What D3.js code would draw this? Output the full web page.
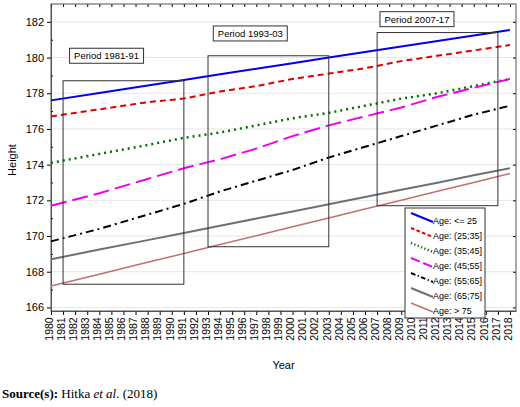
<!DOCTYPE html><html><head><script src="https://cdn.jsdelivr.net/npm/d3@7"></script>
<style>body{margin:0;background:#fff}text{font-family:Arial,"Liberation Sans",sans-serif}</style></head><body>
<svg id="c" width="520" height="407"></svg>
<script>
const years=d3.range(1980,2019);
const ageLabels=["Age: <= 25","Age: (25;35]","Age: (35;45]","Age: (45;55]","Age: (55;65]","Age: (65;75]","Age: > 75"];
const ptYears=[1980,1984,1988,1991,1994,1997,2000,2003,2006,2009,2012,2015,2018];
const sBlue=[177.6,178.02,178.43,178.74,179.06,179.37,179.68,180.0,180.31,180.62,180.93,181.24,181.55];
const sRed=[176.7,177.1,177.5,177.7,178.1,178.4,178.8,179.1,179.4,179.8,180.1,180.4,180.7];
const sGreen=[174.1,174.6,175.1,175.5,175.8,176.2,176.6,176.9,177.3,177.7,178.0,178.4,178.8];
const sMag=[171.7,172.4,173.2,173.8,174.3,174.9,175.6,176.2,176.7,177.2,177.8,178.3,178.8];
const sBlack=[169.7,170.4,171.2,171.8,172.5,173.1,173.7,174.4,175.0,175.6,176.2,176.8,177.3];
const sGray=[168.7,169.24,169.77,170.17,170.58,170.98,171.38,171.78,172.19,172.59,172.99,173.4,173.8];
const sBrown=[167.2,167.86,168.53,169.02,169.52,170.02,170.52,171.01,171.51,172.01,172.51,173.0,173.5];
const yTicks=[166,168,170,172,174,176,178,180,182];
const periods=["Period 1981-91","Period 1993-03","Period 2007-17"];
const periodX=[[1981,1991],[1993,2003],[2007,2017]];
const periodY=[[167.3,178.7],[169.4,180.1],[171.7,181.4]];
const periodLabelPos=[[1984.6,180.1],[1996.5,181.35],[2010.3,182.15]];

const series=[sBlue,sRed,sGreen,sMag,sBlack,sGray,sBrown];
const colors=["#0000ee","#e00000","#007000","#ee00ee","#000000","#707070","#c07070"];
const widths=[2,2,2.5,2,2,2,1.5];
const dashes=[null,"6,4","2,4","16,6","8,4,2,4",null,null];

const svg=d3.select("#c");
const L=51,R=516,T=4,B=311;
const x=d3.scaleLinear().domain([1980,2018.5]).range([L,R]);
const y=d3.scaleLinear().domain([165.8,183.0]).range([B,T]);
svg.append("g").selectAll("line").data(yTicks).join("line")
 .attr("x1",L).attr("x2",R).attr("y1",d=>y(d)).attr("y2",d=>y(d)).attr("stroke","#e6e6e6");
const yAx=svg.append("g").attr("transform",`translate(${L},0)`).call(d3.axisLeft(y).tickValues(yTicks).tickSize(4).tickSizeOuter(0));
yAx.selectAll("text").attr("font-size",11).attr("fill","#000");
svg.append("g").attr("transform",`translate(${L},0)`).call(d3.axisRight(y).tickValues(d3.range(167,183,2)).tickSize(2).tickFormat("")).select(".domain").remove();
const xAx=svg.append("g").attr("transform",`translate(0,${B})`).call(d3.axisBottom(x).tickValues(years).tickFormat(d3.format("d")).tickSize(4).tickSizeOuter(0));
xAx.selectAll("text").attr("font-size",10.5).attr("fill","#000").attr("transform","rotate(-90)").attr("text-anchor","end").attr("dx","-0.6em").attr("dy","-0.55em");
svg.append("g").attr("transform",`translate(0,${T})`).call(d3.axisBottom(x).tickValues(years).tickFormat("").tickSize(3).tickSizeOuter(0)).select(".domain").remove();
svg.append("g").attr("transform",`translate(${R},0)`).call(d3.axisLeft(y).tickValues(yTicks).tickFormat("").tickSize(3).tickSizeOuter(0)).select(".domain").remove();
svg.append("rect").attr("x",L).attr("y",T).attr("width",R-L).attr("height",B-T).attr("fill","none").attr("stroke","#555");
svg.selectAll(".domain").attr("stroke","#555");
const line=d3.line().x((d,i)=>x(ptYears[i])).y(d=>y(d));
series.forEach((s,i)=>{svg.append("path").attr("d",line(s)).attr("fill","none").attr("stroke",colors[i]).attr("stroke-width",widths[i]).attr("stroke-dasharray",dashes[i]);});
periods.forEach((p,i)=>{
 svg.append("rect").attr("x",x(periodX[i][0])).attr("y",y(periodY[i][1])).attr("width",x(periodX[i][1])-x(periodX[i][0])).attr("height",y(periodY[i][0])-y(periodY[i][1])).attr("fill","none").attr("stroke","#333");
 const cx=x(periodLabelPos[i][0]),cy=y(periodLabelPos[i][1]);
 svg.append("rect").attr("x",cx-37).attr("y",cy-7.5).attr("width",74).attr("height",15).attr("fill","#fff").attr("stroke","#333");
 svg.append("text").attr("x",cx).attr("y",cy+3.5).attr("text-anchor","middle").attr("font-size",9.5).text(p);
});
const lg=svg.append("g").attr("transform","translate(405,208)");
lg.append("rect").attr("width",80).attr("height",110).attr("fill","#fff").attr("stroke","#333");
ageLabels.forEach((a,i)=>{
 const yy=8+i*15;
 lg.append("line").attr("x1",6).attr("x2",28).attr("y1",yy-3).attr("y2",yy+6).attr("stroke",colors[i]).attr("stroke-width",widths[i]).attr("stroke-dasharray",dashes[i]?dashes[i].split(",").map(v=>v*0.6).join(","):null);
 lg.append("text").attr("x",28).attr("y",yy+8).attr("font-size",9).text(a);
});
svg.append("text").attr("x",(L+R)/2).attr("y",369).attr("text-anchor","middle").attr("font-size",11).text("Year");
svg.append("text").attr("transform","translate(16,160) rotate(-90)").attr("text-anchor","middle").attr("font-size",11).text("Height");
const src=svg.append("text").attr("x",2).attr("y",398).attr("font-size",13).style("font-family","'Liberation Serif',serif");
src.append("tspan").attr("font-weight","bold").text("Source(s):");
src.append("tspan").text(" Hitka ");
src.append("tspan").attr("font-style","italic").text("et al.");
src.append("tspan").text(" (2018)");
</script></body></html>
